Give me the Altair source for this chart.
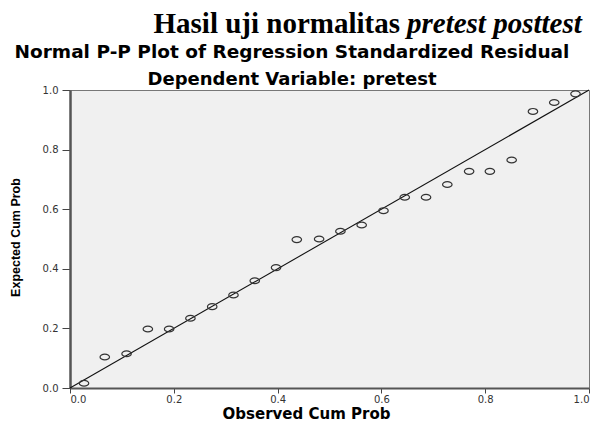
import altair as alt
import pandas as pd

# ---- data ----
observed = [0.027, 0.067, 0.109, 0.150, 0.191, 0.232, 0.274, 0.315, 0.356, 0.397,
            0.437, 0.480, 0.521, 0.562, 0.604, 0.645, 0.686, 0.727, 0.769, 0.809,
            0.851, 0.892, 0.933, 0.974]
expected = [0.016, 0.104, 0.115, 0.198, 0.198, 0.234, 0.273, 0.312, 0.360, 0.404,
            0.498, 0.500, 0.526, 0.547, 0.595, 0.640, 0.640, 0.683, 0.727, 0.727,
            0.765, 0.928, 0.958, 0.987]
ref_x = [0.0, 1.0]
ref_y = [0.0, 1.0]
tick_values = [0.0, 0.2, 0.4, 0.6, 0.8, 1.0]

title_main = "Hasil uji normalitas"
title_italic = "pretest posttest"
subtitle1 = "Normal P-P Plot of Regression Standardized Residual"
subtitle2 = "Dependent Variable: pretest"
x_title = "Observed Cum Prob"
y_title = "Expected Cum Prob"

pts = pd.DataFrame({"obs": observed, "exp": expected})
ref = pd.DataFrame({"obs": ref_x, "exp": ref_y})
one = pd.DataFrame({"k": [0]})

W, H = 519, 298

xs = alt.Scale(domain=[0, 1], nice=False, zero=False)
ys = alt.Scale(domain=[0, 1], nice=False, zero=False)

x_enc = alt.X("obs:Q", scale=xs, axis=alt.Axis(
    values=tick_values, format=".1f", title=x_title, grid=False,
    domainColor="#555555", domainWidth=2, tickColor="#444444", tickSize=5,
    labelFont="DejaVu Sans", labelFontSize=10, labelColor="#333333", labelPadding=1,
    titleFont="DejaVu Sans", titleFontSize=15, titleFontWeight="bold", titleColor="#000000",
    titleX=236, titleY=30, titleAlign="center", titleBaseline="alphabetic"))
y_enc = alt.Y("exp:Q", scale=ys, axis=alt.Axis(
    values=tick_values, format=".1f", title=y_title, grid=False,
    domainColor="#555555", domainWidth=2.5, tickColor="#444444", tickSize=8,
    labelFont="DejaVu Sans", labelFontSize=10, labelColor="#333333", labelPadding=4,
    titleFont="Liberation Sans Narrow, Liberation Sans", titleFontSize=12.5,
    titleFontWeight="bold", titleColor="#000000",
    titleAngle=270, titleX=-55, titleY=147, titleAlign="center", titleBaseline="middle"))

line = alt.Chart(ref).mark_line(color="#111111", strokeWidth=1.1).encode(x=x_enc, y=y_enc)

ellipse = "M-1,0A1,0.62 0 1,0 1,0A1,0.62 0 1,0 -1,0Z"
points = alt.Chart(pts).mark_point(
    shape=ellipse, size=90, filled=False, color="#333333", strokeWidth=1.2, opacity=1
).encode(x=x_enc, y=y_enc)

t1 = alt.Chart(one).mark_text(
    text=title_main, font="Liberation Serif", fontSize=29, fontWeight="bold",
    align="right", baseline="alphabetic", color="#000000"
).encode(x=alt.value(330), y=alt.value(-57))
t2 = alt.Chart(one).mark_text(
    text=title_italic, font="Liberation Serif", fontSize=29, fontWeight="bold",
    fontStyle="italic", align="left", baseline="alphabetic", color="#000000"
).encode(x=alt.value(337), y=alt.value(-57))
s1 = alt.Chart(one).mark_text(
    text=subtitle1, font="DejaVu Sans", fontSize=18.5, fontWeight="bold",
    align="center", baseline="alphabetic", color="#000000"
).encode(x=alt.value(222), y=alt.value(-32))
s2 = alt.Chart(one).mark_text(
    text=subtitle2, font="DejaVu Sans", fontSize=18, fontWeight="bold",
    align="center", baseline="alphabetic", color="#000000"
).encode(x=alt.value(222), y=alt.value(-5))

chart = alt.layer(line, points, t1, t2, s1, s2).properties(
    width=W, height=H, autosize="none",
    padding={"left": 62, "top": 82, "right": 3, "bottom": 34},
    background="#ffffff"
).configure_view(fill="#F0F0F0", stroke="#777777", strokeWidth=1)

chart.save("out.html", embed_options={"renderer": "svg", "actions": False})
